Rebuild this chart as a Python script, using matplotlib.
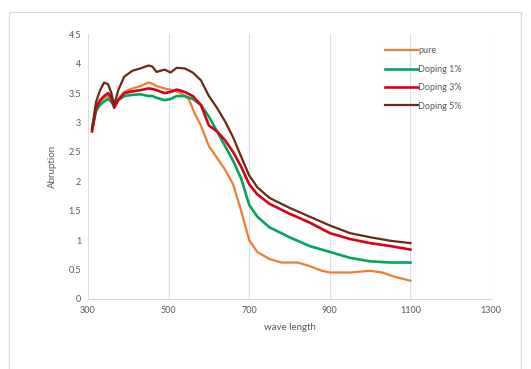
import matplotlib.pyplot as plt
from matplotlib.patches import Rectangle

plt.rcParams['font.family'] = ['Lato', 'DejaVu Sans']

# ---- data ----
wl_pure = [310, 320, 330, 340, 350, 358, 365, 375, 390, 410, 430, 450, 460, 470, 490, 510, 530, 550,
           565, 580, 600, 620, 640, 660, 680, 700, 720, 750, 780, 820, 850, 880, 900, 950, 1000, 1030, 1060, 1100]
pure = [2.85, 3.2, 3.35, 3.42, 3.45, 3.38, 3.3, 3.4, 3.52, 3.58, 3.62, 3.68, 3.66, 3.62, 3.58, 3.55, 3.5, 3.4,
        3.15, 2.95, 2.6, 2.4, 2.2, 1.95, 1.5, 1.0, 0.8, 0.68, 0.62, 0.62, 0.56, 0.48, 0.45, 0.45, 0.48, 0.45, 0.38, 0.31]

wl_d = [310, 320, 330, 340, 350, 358, 365, 375, 390, 410, 430, 450, 460, 470, 490, 505, 520, 540, 560,
        580, 600, 620, 640, 660, 680, 700, 720, 750, 800, 850, 900, 950, 1000, 1050, 1100]
dop1 = [2.9, 3.2, 3.3, 3.36, 3.4, 3.35, 3.28, 3.38, 3.45, 3.47, 3.48, 3.45, 3.45, 3.42, 3.38, 3.4, 3.45, 3.45, 3.4,
        3.3, 3.1, 2.85, 2.6, 2.35, 2.05, 1.6, 1.4, 1.22, 1.05, 0.9, 0.8, 0.7, 0.64, 0.62, 0.62]
dop3 = [2.85, 3.25, 3.38, 3.45, 3.5, 3.42, 3.25, 3.38, 3.5, 3.53, 3.55, 3.58, 3.57, 3.55, 3.5, 3.52, 3.56, 3.52, 3.45,
        3.3, 2.95, 2.85, 2.7, 2.5, 2.25, 1.95, 1.78, 1.62, 1.45, 1.3, 1.12, 1.02, 0.95, 0.9, 0.84]
dop5 = [2.9, 3.35, 3.55, 3.68, 3.65, 3.5, 3.3, 3.55, 3.78, 3.88, 3.92, 3.97, 3.95, 3.86, 3.9, 3.85, 3.93, 3.92, 3.85,
        3.72, 3.45, 3.25, 3.02, 2.75, 2.42, 2.1, 1.9, 1.72, 1.55, 1.4, 1.25, 1.12, 1.05, 0.99, 0.95]

labels = ['pure', 'Doping 1%', 'Doping 3%', 'Doping 5%']
colors = ['#ED7D31', '#00A65A', '#D9001B', '#6B2A12']

fig = plt.figure(figsize=(5.31, 3.69), dpi=100)
fig.patches.append(Rectangle((9 / 531, -0.01), 512 / 531, 1 - 12 / 369 + 0.01, transform=fig.transFigure,
                             fill=False, edgecolor='#D9D9D9', lw=0.8))
ax = fig.add_axes([88 / 531, 1 - 299 / 369, 403 / 531, (299 - 34.3) / 369])

ax.plot(wl_pure, pure, color=colors[0], lw=1.6, label=labels[0])
ax.plot(wl_d, dop1, color=colors[1], lw=1.9, label=labels[1])
ax.plot(wl_d, dop3, color=colors[2], lw=1.9, label=labels[2])
ax.plot(wl_d, dop5, color=colors[3], lw=1.6, label=labels[3])

ax.set_xlim(300, 1300)
ax.set_ylim(0, 4.5)
ax.set_xticks(range(300, 1301, 200))
ax.set_yticks([0, 0.5, 1, 1.5, 2, 2.5, 3, 3.5, 4, 4.5])
ax.set_yticklabels(['0', '0.5', '1', '1.5', '2', '2.5', '3', '3.5', '4', '4.5'])
ax.grid(axis='x', color='#D6E0EA', lw=0.8)
ax.set_axisbelow(True)
for s in ['top', 'right', 'left']:
    ax.spines[s].set_visible(False)
ax.spines['bottom'].set_color('#D9D9D9')
ax.tick_params(length=0, labelsize=6.5, colors='#595959', pad=5)

ax.set_xlabel('wave length', fontsize=7, color='#595959', labelpad=6)
ax.set_ylabel('Abruption', fontsize=7, color='#595959', labelpad=8)

ax.legend(loc='upper left', bbox_to_anchor=(0.737, 0.955), frameon=False, fontsize=6.5,
          borderaxespad=0, borderpad=0,
          handlelength=3.6, handletextpad=0.1, labelspacing=1.05, labelcolor='#595959')

fig.savefig('out.png', dpi=100)
